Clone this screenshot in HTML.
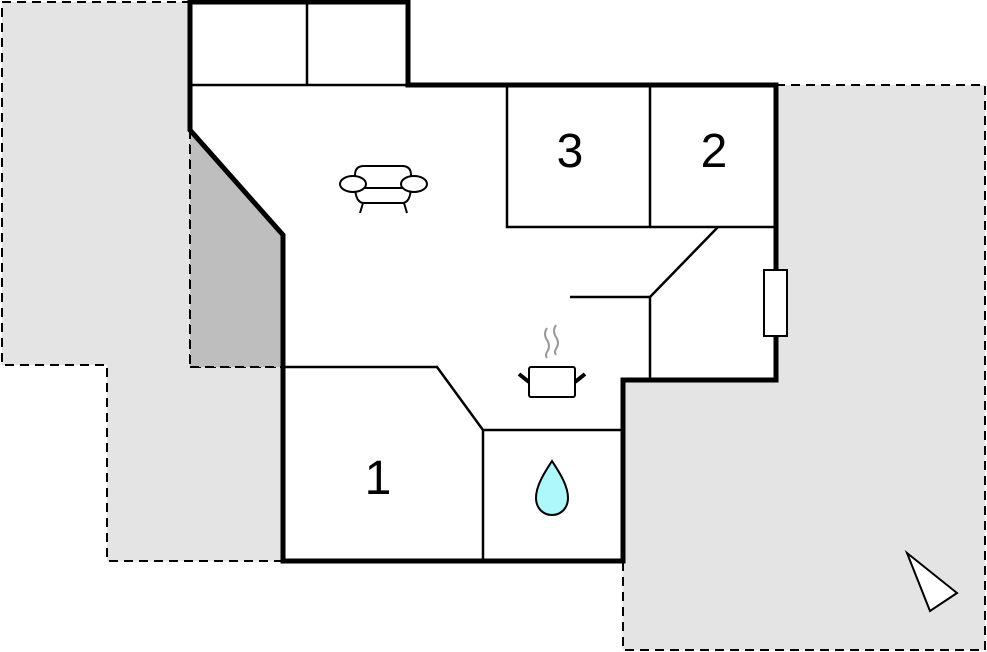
<!DOCTYPE html>
<html><head><style>body{margin:0;background:#fff}svg{display:block}</style></head><body>
<svg width="987" height="652" viewBox="0 0 987 652" xmlns="http://www.w3.org/2000/svg">
<g fill="#e4e4e4" stroke="#000" stroke-width="2" stroke-dasharray="9,6">
<polygon points="2,2 190,2 190,367 283,367 283,561 107,561 107,365 2,365"/>
<polygon points="776,85 985,85 985,650 623,650 623,380 776,380"/>
</g>
<polygon points="190,130 283,235 283,367 190,367" fill="#bebebe"/>
<line x1="190" y1="130" x2="190" y2="367" stroke="#000" stroke-width="2" stroke-dasharray="9,6"/>
<line x1="190" y1="367" x2="283" y2="367" stroke="#000" stroke-width="2" stroke-dasharray="9,6"/>
<polygon points="190,2 408,2 408,85 776,85 776,380 623,380 623,561 283,561 283,235 190,130" fill="#fff" stroke="#000" stroke-width="5"/>
<g stroke="#000" stroke-width="2.5" fill="none">
<line x1="190" y1="85" x2="408" y2="85"/>
<line x1="307" y1="2" x2="307" y2="85"/>
<polyline points="507,85 507,227 776,227"/>
<line x1="650" y1="85" x2="650" y2="227"/>
<polyline points="718,227 650,297 650,380"/>
<line x1="570" y1="297" x2="650" y2="297"/>
<polyline points="283,367 437,367 483,430 483,561"/>
<line x1="483" y1="430" x2="623" y2="430"/>
</g>
<rect x="764" y="270" width="23" height="66" fill="#fff" stroke="#000" stroke-width="2"/>
<g font-family="Liberation Sans, sans-serif" font-size="48" text-anchor="middle">
<text x="570" y="167">3</text><text x="714" y="167">2</text><text x="378" y="494">1</text>
</g>
<g stroke="#000" stroke-width="2" fill="#fff">
<path d="M355,185 v-10 q0,-9 9,-9 h38 q9,0 9,9 v10 q0,18 -9,18 h-38 q-9,0 -9,-18z"/>
<line x1="360" y1="188" x2="406" y2="188"/>
<ellipse cx="353" cy="184" rx="13" ry="8"/><ellipse cx="414" cy="184" rx="13" ry="8"/>
<line x1="363" y1="203" x2="360" y2="213"/><line x1="404" y1="203" x2="407" y2="213"/>
</g>
<g stroke="#000" stroke-width="2" fill="#fff">
<rect x="529" y="367" width="46" height="30" rx="2"/>
</g>
<g stroke="#000" stroke-width="4"><line x1="519" y1="374" x2="529" y2="382"/><line x1="585" y1="374" x2="575" y2="382"/></g>
<g stroke="#999" stroke-width="2" fill="none">
<path d="M547,328 q-4,6 0,12 q4,6 0,12 q-2,3 0,6"/><path d="M556,325 q-4,6 0,12 q4,6 0,12 q-2,3 0,6"/>
</g>
<path d="M552,461 C545,472 536,485 536,498 C536,508 543,515 552,515 C561,515 568,508 568,498 C568,485 559,472 552,461z" fill="#aef8fc" stroke="#000" stroke-width="2"/>
<polygon points="907,553 957,593 930,611" fill="#fff" stroke="#000" stroke-width="2"/>
</svg>
</body></html>
